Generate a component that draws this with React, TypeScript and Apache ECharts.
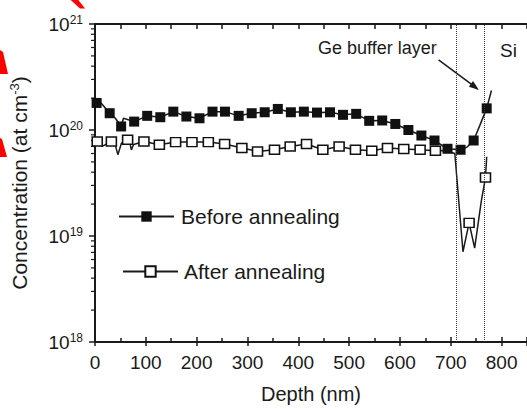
import { useEffect, useRef } from "react";
import * as echarts from "echarts";

// ---- Data (depth in nm, concentration in at/cm^3) ----
const beforeMarkerDepth = [3.2, 28.9, 51.4, 77.1, 102.7, 128.5, 154.1, 179.8, 205.6, 231.2, 255.7, 282.7, 308.3, 333.9, 359.7, 385.4, 411, 436.8, 462.4, 488, 513.9, 539.5, 565.1, 590.9, 616.6, 642.2, 668, 693.6, 719.3, 745, 770.7];
const beforeMarkerConc = [1.8e20, 1.44e20, 1.08e20, 1.2e20, 1.36e20, 1.32e20, 1.49e20, 1.34e20, 1.29e20, 1.49e20, 1.49e20, 1.36e20, 1.44e20, 1.47e20, 1.58e20, 1.47e20, 1.49e20, 1.46e20, 1.47e20, 1.39e20, 1.42e20, 1.22e20, 1.23e20, 1.14e20, 1.0e20, 0.887e20, 0.796e20, 0.665e20, 0.651e20, 0.796e20, 1.6e20];
const beforeLineDepth = [0, 7, 14, 40, 56, 732, 757, 780];
const beforeLineConc = [2.0e20, 1.9e20, 1.75e20, 1.29e20, 1.29e20, 0.69e20, 1.1e20, 2.36e20];

const afterMarkerDepth = [4.4, 32.2, 64.2, 96.3, 126.6, 158.6, 190.8, 223, 255, 289, 319.8, 353.2, 384, 416.2, 448.3, 480.3, 512.5, 544.6, 575.5, 607.5, 639.7, 669.8, 736.1, 768.3];
const afterMarkerConc = [7.8e19, 7.8e19, 8.09e19, 7.8e19, 7.26e19, 7.69e19, 7.69e19, 7.69e19, 7.37e19, 6.76e19, 6.28e19, 6.51e19, 7.0e19, 7.37e19, 6.51e19, 7.0e19, 6.51e19, 6.37e19, 6.76e19, 6.61e19, 6.51e19, 6.37e19, 1.33e19, 3.57e19];
const afterLineDepth = [0, 14, 40, 45, 52, 69, 71.5, 76, 690, 708, 724, 747, 760, 770.7];
const afterLineConc = [8.5e19, 7.0e19, 7.2e19, 5.85e19, 7.5e19, 7.4e19, 6.5e19, 7.3e19, 6.4e19, 6.0e19, 7.1e18, 7.7e18, 2.12e19, 5.6e19];

const layerBoundaries = [710, 765];
const arrowStart = [676, 4.58e20];
const arrowEnd = [747.6, 2.55e20];

const minorFactors = [2, 3, 4, 5, 6, 7, 8, 9];
const decades = [1e18, 1e19, 1e20];

const seriesNames = ["Before annealing", "After annealing"];

const FONT = "'Liberation Sans', Arial, Helvetica, sans-serif";
const INK = "#1a1a1a";

function buildData(lx: number[], ly: number[], mx: number[], my: number[]) {
  const pts: any[] = [
    ...lx.map((x, i) => ({ value: [x, ly[i]], symbol: "none" })),
    ...mx.map((x, i) => ({ value: [x, my[i]] })),
  ];
  pts.sort((a, b) => a.value[0] - b.value[0]);
  return pts;
}

const minorTickData: number[][] = [];
decades.forEach((d) => minorFactors.forEach((f) => minorTickData.push([0, f * d])));

export default function App() {
  const ref = useRef<HTMLDivElement>(null);
  useEffect(() => {
    const chart = echarts.init(ref.current!, null, { renderer: "svg" });
    const option: any = {
      animation: false,
      textStyle: { fontFamily: FONT, color: INK },
      grid: { left: 94, top: 24, width: 441, height: 318.5 },
      xAxis: [
        {
          type: "value",
          position: "bottom",
          min: 0,
          max: 850,
          interval: 100,
          name: "Depth (nm)",
          nameLocation: "middle",
          nameGap: 42,
          nameTextStyle: { fontSize: 20, color: INK, fontFamily: FONT },
          axisLine: { lineStyle: { color: INK, width: 2 } },
          axisTick: { inside: true, length: 5, lineStyle: { color: INK, width: 1.5 } },
          minorTick: { show: true, splitNumber: 2, length: 4, lineStyle: { color: INK, width: 1.5 } },
          axisLabel: { fontSize: 19, color: INK, margin: 11, showMaxLabel: false, fontFamily: FONT },
          splitLine: { show: false },
        },
        {
          type: "value",
          position: "top",
          min: 0,
          max: 850,
          interval: 50,
          axisLine: { lineStyle: { color: INK, width: 2 } },
          axisTick: { inside: true, length: 5, lineStyle: { color: INK, width: 1.5 } },
          axisLabel: { show: false },
          splitLine: { show: false },
        },
        {
          type: "value",
          position: "bottom",
          min: 0,
          max: 850,
          interval: 100,
          axisLine: { show: false },
          axisTick: { inside: false, length: 4, lineStyle: { color: INK, width: 1.5 } },
          axisLabel: { show: false },
          splitLine: { show: false },
        },
      ],
      yAxis: {
        type: "log",
        logBase: 10,
        min: 1e18,
        max: 1e21,
        name: "{t|Concentration (at cm}{s|-3}{t|)}",
        nameLocation: "middle",
        nameRotate: 90,
        nameGap: 64,
        nameTextStyle: {
          rich: {
            t: { fontSize: 21, color: INK, fontFamily: FONT },
            s: { fontSize: 13, color: INK, fontFamily: FONT, padding: [0, 0, 10, 0] },
          },
        },
        axisLine: { show: true, lineStyle: { color: INK, width: 2 } },
        axisTick: { show: true, inside: false, length: 6, lineStyle: { color: INK, width: 1.5 } },
        axisLabel: {
          margin: 12,
          formatter: (v: number) => `{b|10}{s|${Math.round(Math.log10(v))}}`,
          rich: {
            b: { fontSize: 19, color: INK, fontFamily: FONT },
            s: { fontSize: 12, color: INK, fontFamily: FONT, padding: [0, 0, 9, 0] },
          },
        },
        splitLine: { show: false },
      },
      legend: [
        {
          data: [seriesNames[0]],
          left: 118,
          top: 206,
          padding: 0,
          itemWidth: 55,
          itemHeight: 13,
          selectedMode: false,
          textStyle: { fontSize: 21, color: INK, fontFamily: FONT, padding: [0, 0, 0, 2] },
        },
        {
          data: [seriesNames[1]],
          left: 122,
          top: 261,
          padding: 0,
          itemWidth: 55,
          itemHeight: 13,
          selectedMode: false,
          textStyle: { fontSize: 21, color: INK, fontFamily: FONT, padding: [0, 0, 0, 1] },
        },
      ],
      graphic: [
        { type: "text", left: 318, top: 39, style: { text: "Ge buffer layer", fontSize: 18, fill: INK, fontFamily: FONT } },
        { type: "text", left: 500, top: 41, style: { text: "Si", fontSize: 19, fill: INK, fontFamily: FONT } },
        { type: "polygon", shape: { points: [[70.7, 0], [78.3, 0], [85, 8.5], [80, 8.5]] }, style: { fill: "#ff0000" } },
        { type: "polygon", shape: { points: [[0, 50], [3, 52], [8, 74], [0, 74]] }, style: { fill: "#ff0000" } },
        { type: "polygon", shape: { points: [[0, 138], [2, 139], [7, 157], [0, 157]] }, style: { fill: "#ff0000" } },
      ],
      series: [
        {
          name: seriesNames[0],
          type: "line",
          data: buildData(beforeLineDepth, beforeLineConc, beforeMarkerDepth, beforeMarkerConc),
          symbol: "rect",
          symbolSize: 10,
          showSymbol: true,
          lineStyle: { color: INK, width: 1.5 },
          itemStyle: { color: "#111" },
          z: 3,
          markLine: {
            silent: true,
            symbol: ["none", "none"],
            label: { show: false },
            lineStyle: { type: "dotted", color: "#333", width: 1 },
            data: layerBoundaries.map((x) => ({ xAxis: x })),
          },
        },
        {
          name: seriesNames[1],
          type: "line",
          data: buildData(afterLineDepth, afterLineConc, afterMarkerDepth, afterMarkerConc),
          symbol: "rect",
          symbolSize: [10, 9],
          showSymbol: true,
          lineStyle: { color: INK, width: 1.5 },
          itemStyle: { color: "#fff", borderColor: "#111", borderWidth: 1.5 },
          z: 2,
          markLine: {
            silent: true,
            symbol: ["none", "triangle"],
            symbolSize: [7, 10],
            label: { show: false },
            lineStyle: { type: "solid", color: INK, width: 1.5 },
            data: [[{ coord: arrowStart }, { coord: arrowEnd }]],
          },
        },
        {
          type: "custom",
          silent: true,
          clip: false,
          data: minorTickData,
          encode: { x: 0, y: 1 },
          renderItem: (_p: any, api: any) => {
            const pt = api.coord([0, api.value(1)]);
            return {
              type: "line",
              shape: { x1: pt[0] - 4, y1: pt[1], x2: pt[0], y2: pt[1] },
              style: { stroke: INK, lineWidth: 1.2 },
            };
          },
        },
      ],
    };
    chart.setOption(option);
    return () => chart.dispose();
  }, []);
  return (
    <div
      ref={ref}
      style={{ position: "fixed", left: 0, top: 0, width: 527, height: 409, background: "#fff" }}
    />
  );
}
